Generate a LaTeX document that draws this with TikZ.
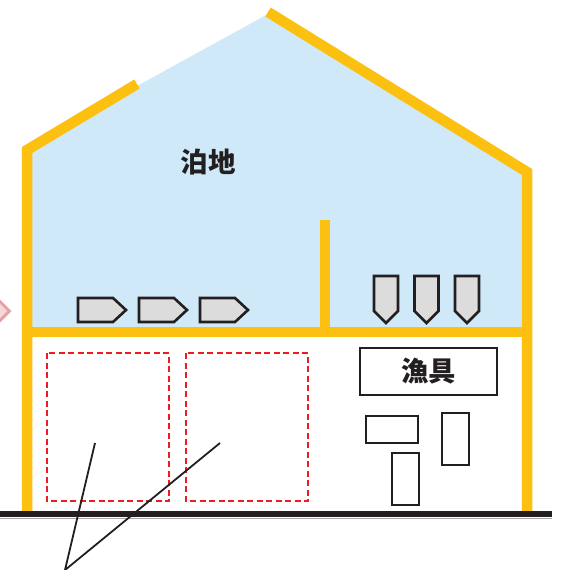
\documentclass[tikz,border=0pt]{standalone}
\usepackage{fontspec}
\newfontfamily\jp{Noto Sans CJK JP}
\usetikzlibrary{shapes.geometric}
\definecolor{yel}{HTML}{FCC010}
\definecolor{sea}{HTML}{CFE9F9}
\definecolor{ink}{HTML}{231F20}
\definecolor{hull}{HTML}{DCDCDD}
\definecolor{berthred}{HTML}{ED1C24}
\definecolor{pinkline}{HTML}{E6A3A6}
\definecolor{pinkfill}{HTML}{F6D8DA}
\begin{document}
\begin{tikzpicture}[x=1pt,y=-1pt,
		wall/.style={draw=yel,line width=10.5pt,line join=miter},
		boat/.style={draw=ink,fill=hull,line width=2.6pt,line join=miter},
		berth/.style={draw=berthred,line width=2.2pt,dash pattern=on 6pt off 3.5pt},
		crate/.style={draw=ink,line width=1.8pt,fill=white,inner sep=0pt},
		every node/.style={font=\jp\bfseries\fontsize{27.5}{27.5}\selectfont,text=ink}]
	\useasboundingbox (0,0) rectangle (562,570);
	% water under the roof
	\fill[sea] (27,150) -- (137,86) -- (268,14) -- (527,172) -- (527,332) -- (27,332) -- cycle;
	\node[diamond,draw=pinkline,fill=pinkfill,line width=3pt,minimum size=28pt,inner sep=0pt] (mark) at (-4,311) {};
	% frame
	\draw[wall] (27,511) -- (27,150) -- (137,84);
	\draw[wall] (268,12) -- (527,172) -- (527,511);
	\draw[wall] (27,332) -- (527,332);
	\draw[wall] (325,220) -- (325,332);
	% boats lying in the harbour
	\foreach \x in {78,139,200}
		\draw[boat] (\x,298) -- (\x+35,298) -- (\x+48,310) -- (\x+35,322) -- (\x,322) -- cycle;
	\foreach \x in {374,414.5,455}
		\draw[boat] (\x,276) -- (\x+24,276) -- (\x+24,311) -- (\x+12,323) -- (\x,311) -- cycle;
	\node (harbour) at (208,162) {泊地};
	% parking bays
	\draw[berth] (47,353) rectangle (169,501);
	\draw[berth] (186,353) rectangle (308,501);
	% gear store
	\node[crate,minimum width=137pt,minimum height=47pt] (gear) at (428.5,371.5) {漁具};
	\node[crate,minimum width=52pt,minimum height=27pt] (crateA) at (392,429.5) {};
	\node[crate,minimum width=27pt,minimum height=52pt] (crateB) at (455.5,439) {};
	\node[crate,minimum width=27pt,minimum height=52pt] (crateC) at (405.5,479) {};
	% ground
	\draw[draw=black!35,line width=1pt] (0,518) -- (552,518);
	\draw[draw=ink,line width=6.5pt] (0,514) -- (552,514);
	% leader lines
	\coordinate (tip) at (65,570);
	\coordinate (endA) at (95,443);
	\coordinate (endB) at (220,443);
	\draw[ink,line width=1.8pt] (endA) -- (tip) -- (endB);
\end{tikzpicture}
\end{document}
